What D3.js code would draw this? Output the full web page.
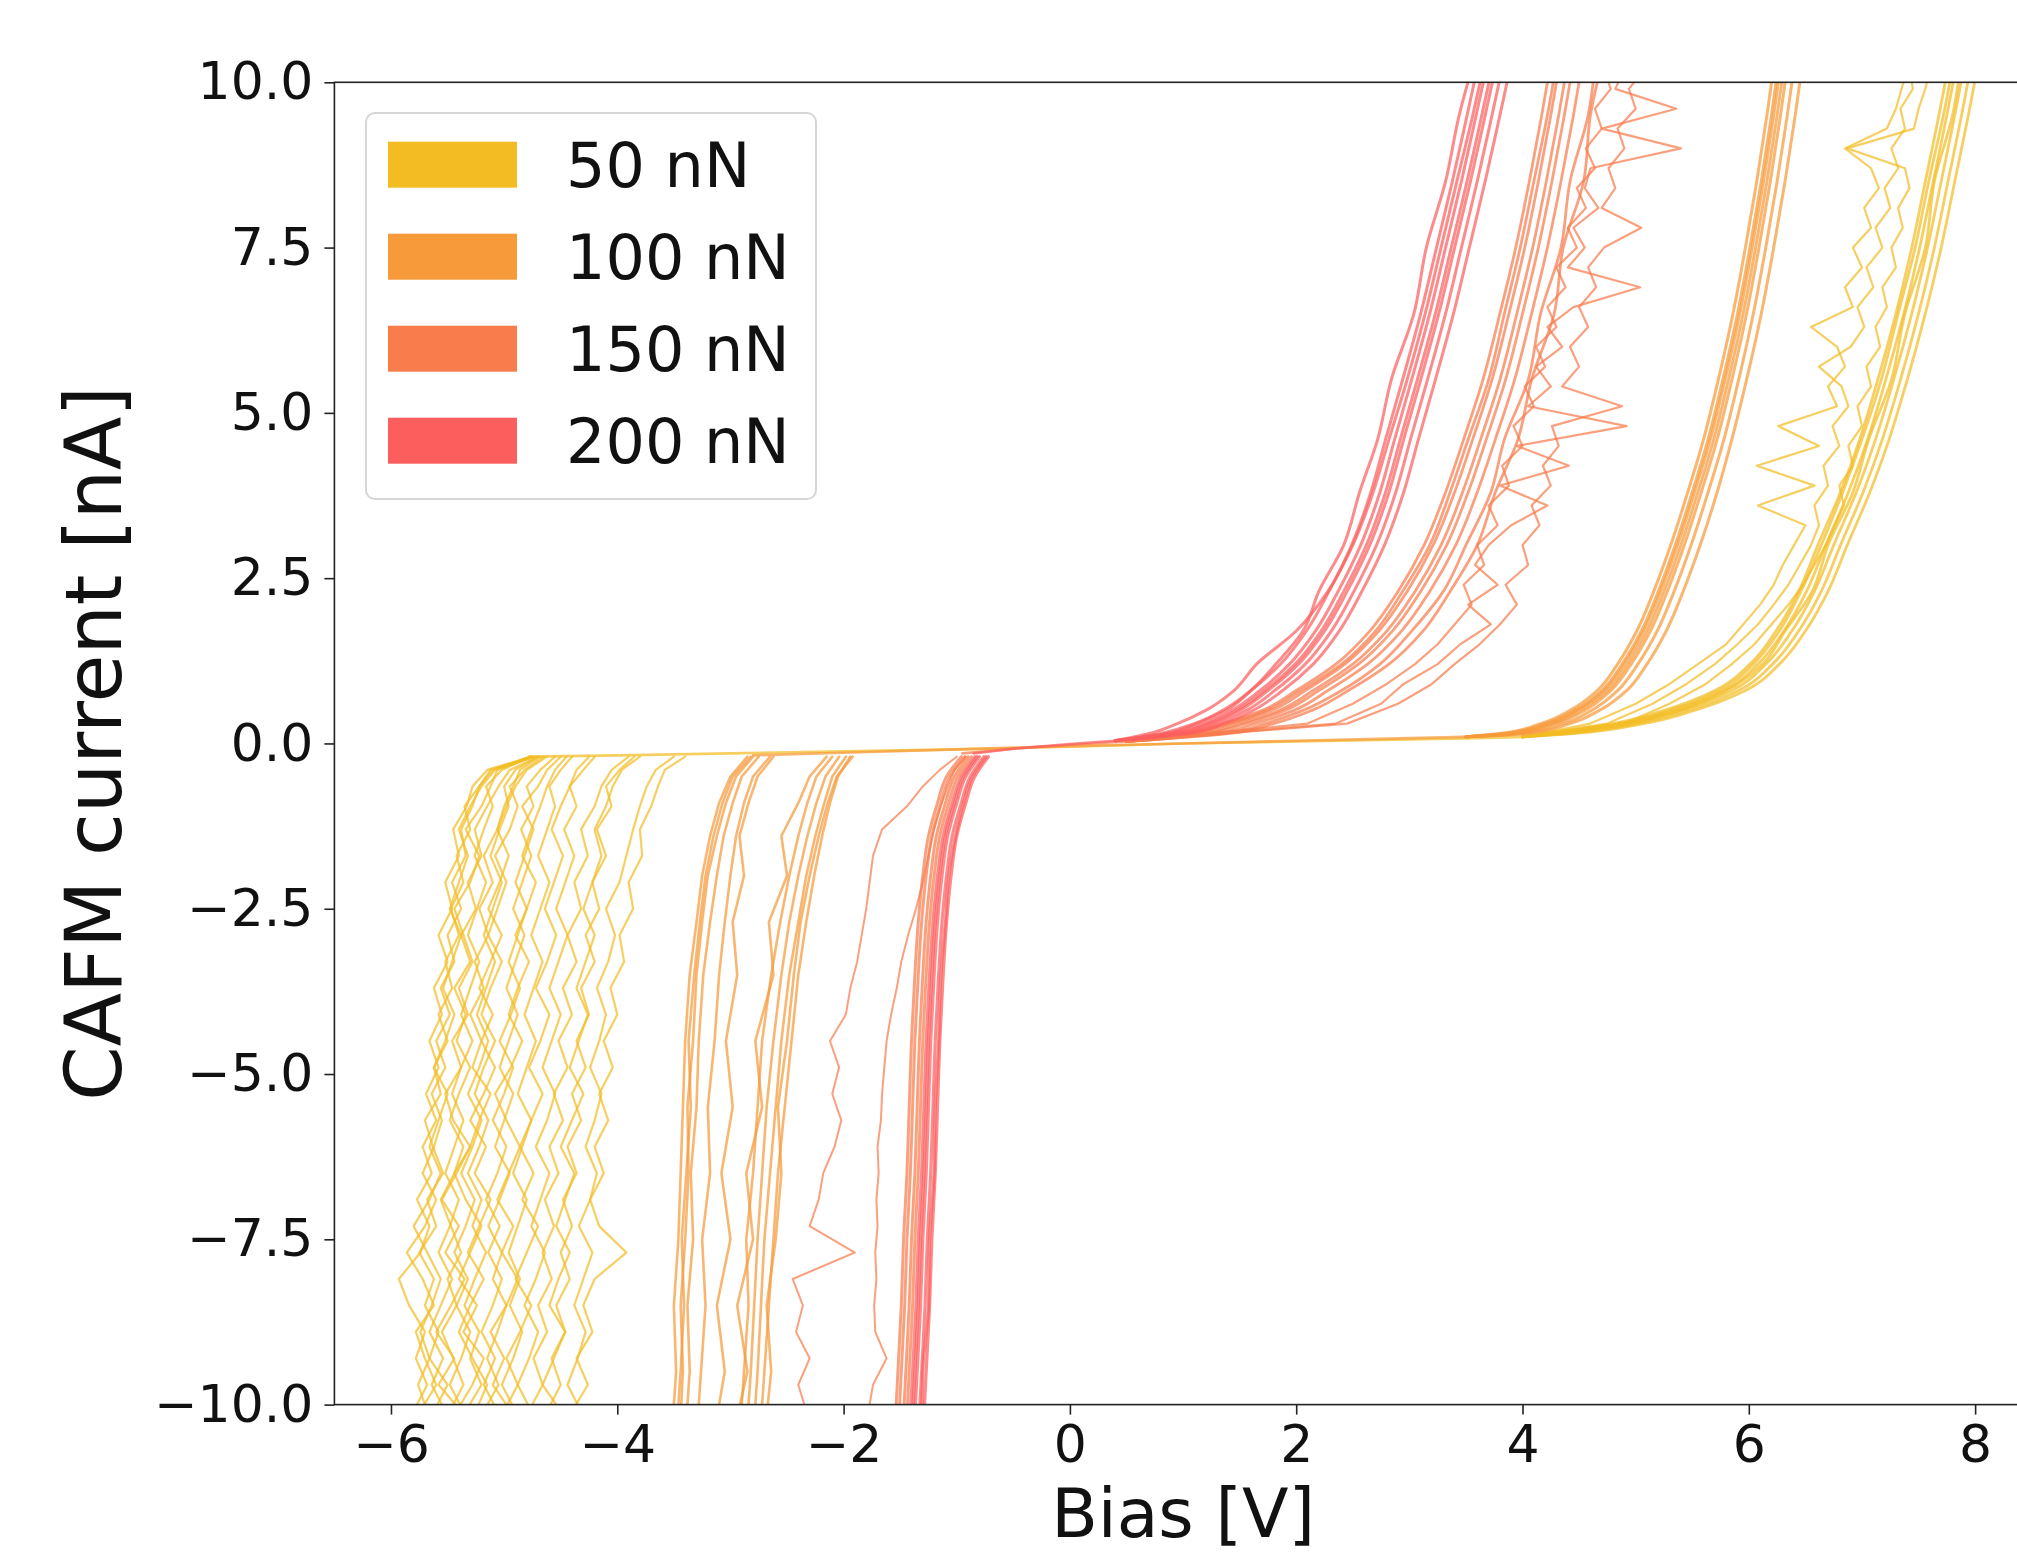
<!DOCTYPE html>
<html>
<head>
<meta charset="utf-8">
<style>
  body { margin: 0; background: #fff; }
  svg { display: block; font-family: "DejaVu Sans", sans-serif; }
  .trace { fill: none; stroke-linejoin: round; stroke-linecap: round; }
  .axis path, .axis line { stroke: #222; stroke-width: 1.6px; }
  .axis text { font-size: 52px; fill: #111; font-family: "DejaVu Sans", sans-serif; }
  .label { font-size: 78px; fill: #111; }
</style>
</head>
<body>
<svg width="2017" height="1555"></svg>
<script src="https://d3js.org/d3.v7.min.js"></script>
<script>
// ---- data ----
var forces = ["50 nN", "100 nN", "150 nN", "200 nN"];
var colors = ["#f2bc22", "#f69a3a", "#f87c4c", "#fc5e5e"];
var voltTicks = [-6, -4, -2, 0, 2, 4, 6, 8];
var currentTicks = [-10, -7.5, -5, -2.5, 0, 2.5, 5, 7.5, 10];

// current levels [nA] at which each branch's bias [V] was read
var negLevelsFine = [-10.5,-10.1,-9.7,-9.3,-8.9,-8.5,-8.1,-7.7,-7.3,-6.9,-6.5,-6.1,-5.7,-5.3,-4.9,-4.5,-4.1,-3.7,-3.3,-2.9,-2.5,-2.1,-1.7,-1.3,-0.95,-0.65,-0.4,-0.2];
var negLevels = [-10.5,-9.5,-8.5,-7.5,-6.5,-5.5,-4.5,-3.5,-2.7,-2.0,-1.4,-0.9,-0.5,-0.2];
var posLevels = [0.15,0.3,0.5,0.8,1.2,1.7,2.3,3,3.8,4.6,5.5,6.5,7.5,8.5,9.5,10.6];
var posLevelsFine = [0.3,0.6,0.9,1.2,1.5,1.8,2.1,2.4,2.7,3.0,3.3,3.6,3.9,4.2,4.5,4.8,5.1,5.4,5.7,6.0,6.3,6.6,6.9,7.2,7.5,7.8,8.1,8.4,8.7,9.0,9.3,9.6,9.9,10.2,10.6];

// low-current plateau of each load [V, nA]
var flat50 = [[-4.78,-0.2],[-4,-0.18],[-3,-0.15],[-2,-0.12],[-1,-0.09],[0,-0.05],[1,0],[2,0.03],[3,0.06],[3.6,0.08],[4.0,0.1]];
var flat100 = [[-2.8,-0.18],[-2,-0.14],[-1,-0.09],[0,-0.04],[1,0.0],[2,0.04],[3,0.08],[3.5,0.1]];
var flat150 = [[-0.95,-0.15],[-0.5,-0.08],[0,-0.02],[0.5,0.03]];
var flat200 = [[-0.85,-0.15],[-0.5,-0.08],[0,-0.01],[0.4,0.04]];

// 50 nN, negative branches on negLevelsFine
var neg50 = [
  [-5.72,-5.80,-5.68,-5.78,-5.70,-5.84,-5.93,-5.74,-5.66,-5.77,-5.64,-5.72,-5.60,-5.69,-5.58,-5.66,-5.55,-5.62,-5.50,-5.58,-5.46,-5.52,-5.40,-5.45,-5.33,-5.28,-5.15,-4.75],
  [-5.55,-5.62,-5.50,-5.66,-5.58,-5.70,-5.62,-5.75,-5.60,-5.68,-5.54,-5.63,-5.70,-5.56,-5.62,-5.50,-5.58,-5.46,-5.52,-5.40,-5.47,-5.36,-5.42,-5.30,-5.35,-5.22,-5.10,-4.72],
  [-5.40,-5.48,-5.36,-5.45,-5.55,-5.42,-5.50,-5.38,-5.47,-5.56,-5.44,-5.36,-5.48,-5.40,-5.30,-5.42,-5.34,-5.44,-5.30,-5.38,-5.25,-5.32,-5.20,-5.26,-5.15,-5.05,-4.95,-4.70],
  [-5.25,-5.34,-5.20,-5.30,-5.22,-5.35,-5.26,-5.16,-5.28,-5.20,-5.32,-5.22,-5.14,-5.26,-5.18,-5.08,-5.20,-5.12,-5.02,-5.14,-5.06,-4.98,-5.08,-4.95,-4.88,-4.95,-4.82,-4.65],
  [-5.10,-5.18,-5.05,-5.15,-5.06,-4.98,-5.10,-5.02,-5.14,-5.04,-4.95,-5.08,-5.00,-4.92,-5.04,-4.96,-4.88,-4.98,-4.90,-4.82,-4.92,-4.84,-4.76,-4.85,-4.74,-4.80,-4.68,-4.55],
  [-4.98,-4.90,-5.02,-4.92,-4.84,-4.95,-4.86,-4.96,-4.88,-4.80,-4.92,-4.84,-4.76,-4.88,-4.80,-4.72,-4.82,-4.74,-4.66,-4.76,-4.68,-4.60,-4.70,-4.62,-4.55,-4.60,-4.50,-4.40],
  [-4.85,-4.76,-4.88,-4.78,-4.70,-4.82,-4.72,-4.64,-4.76,-4.68,-4.60,-4.72,-4.62,-4.55,-4.66,-4.58,-4.50,-4.60,-4.52,-4.44,-4.54,-4.46,-4.38,-4.47,-4.36,-4.42,-4.30,-4.20],
  [-4.55,-4.62,-4.50,-4.58,-4.46,-4.54,-4.42,-4.50,-4.40,-4.48,-4.36,-4.44,-4.32,-4.40,-4.28,-4.36,-4.25,-4.32,-4.20,-4.28,-4.16,-4.22,-4.10,-4.18,-4.05,-4.10,-3.98,-3.85],
  [-4.40,-4.32,-4.44,-4.35,-4.28,-4.38,-4.30,-4.22,-4.34,-4.24,-4.18,-4.28,-4.20,-4.14,-4.24,-4.16,-4.10,-4.18,-4.08,-4.02,-4.10,-3.98,-3.92,-3.86,-3.80,-3.74,-3.66,-3.50],
  [-4.32,-4.40,-4.26,-4.36,-4.22,-4.30,-4.20,-3.92,-4.16,-4.24,-4.12,-4.20,-4.08,-4.16,-4.04,-4.12,-4.00,-4.06,-3.94,-3.98,-3.86,-3.90,-3.78,-3.80,-3.70,-3.64,-3.58,-3.40],
  [-5.62,-5.52,-5.64,-5.54,-5.66,-5.56,-5.46,-5.58,-5.48,-5.40,-5.52,-5.44,-5.36,-5.46,-5.38,-5.28,-5.38,-5.30,-5.22,-5.32,-5.24,-5.16,-5.26,-5.18,-5.10,-5.16,-5.02,-4.76],
  [-5.15,-5.06,-5.18,-5.08,-5.20,-5.10,-5.02,-5.14,-5.04,-5.16,-5.06,-4.98,-5.10,-5.00,-4.92,-5.04,-4.94,-4.86,-4.96,-4.88,-4.80,-4.90,-4.82,-4.74,-4.84,-4.70,-4.62,-4.50],
  [-4.70,-4.78,-4.66,-4.74,-4.62,-4.70,-4.58,-4.66,-4.56,-4.64,-4.52,-4.60,-4.48,-4.56,-4.44,-4.52,-4.40,-4.48,-4.36,-4.44,-4.32,-4.38,-4.26,-4.32,-4.20,-4.14,-4.05,-3.90],
  [-5.45,-5.36,-5.48,-5.38,-5.30,-5.42,-5.32,-5.44,-5.34,-5.26,-5.38,-5.28,-5.20,-5.32,-5.22,-5.14,-5.24,-5.16,-5.08,-5.18,-5.10,-5.02,-5.12,-5.04,-4.96,-5.00,-4.90,-4.70],
  [-5.50,-5.38,-5.58,-5.44,-5.60,-5.47,-5.35,-5.52,-5.40,-5.55,-5.42,-5.30,-5.45,-5.52,-5.38,-5.46,-5.32,-5.40,-5.28,-5.36,-5.44,-5.30,-5.22,-5.34,-5.20,-5.12,-5.06,-4.74],
  [-5.30,-5.42,-5.28,-5.18,-5.36,-5.24,-5.40,-5.30,-5.20,-5.34,-5.44,-5.30,-5.22,-5.12,-5.28,-5.20,-5.30,-5.18,-5.26,-5.14,-5.22,-5.10,-5.18,-5.06,-5.00,-4.92,-4.86,-4.68],
  [-5.05,-4.94,-5.10,-5.00,-5.12,-4.98,-4.88,-5.02,-4.92,-5.06,-4.96,-4.86,-4.98,-5.08,-4.94,-4.84,-4.96,-4.88,-4.78,-4.90,-4.80,-4.72,-4.84,-4.76,-4.68,-4.62,-4.55,-4.45],
  [-5.65,-5.74,-5.60,-5.70,-5.78,-5.62,-5.72,-5.86,-5.70,-5.60,-5.72,-5.62,-5.55,-5.64,-5.52,-5.60,-5.48,-5.56,-5.44,-5.50,-5.38,-5.46,-5.34,-5.38,-5.28,-5.22,-5.12,-4.77],
  [-4.62,-4.50,-4.66,-4.56,-4.46,-4.60,-4.52,-4.42,-4.54,-4.46,-4.38,-4.50,-4.40,-4.30,-4.42,-4.34,-4.26,-4.36,-4.28,-4.20,-4.30,-4.22,-4.14,-4.20,-4.10,-4.04,-3.96,-3.80],
  [-5.35,-5.25,-5.15,-5.28,-5.40,-5.30,-5.18,-5.32,-5.22,-5.12,-5.26,-5.16,-5.30,-5.18,-5.08,-5.20,-5.10,-5.22,-5.12,-5.02,-5.14,-5.04,-4.96,-5.06,-4.98,-4.90,-4.80,-4.62],
  [-4.90,-5.00,-4.88,-4.98,-4.86,-4.76,-4.90,-4.80,-4.70,-4.84,-4.74,-4.86,-4.76,-4.66,-4.78,-4.68,-4.60,-4.72,-4.62,-4.54,-4.64,-4.56,-4.48,-4.58,-4.50,-4.42,-4.36,-4.25],
  [-5.78,-5.68,-5.76,-5.66,-5.74,-5.64,-5.56,-5.68,-5.80,-5.66,-5.56,-5.66,-5.58,-5.50,-5.62,-5.52,-5.44,-5.54,-5.46,-5.38,-5.48,-5.40,-5.32,-5.40,-5.30,-5.20,-5.08,-4.78]
];
// 50 nN, positive branches on posLevels
var pos50 = [
  [4.20,4.80,5.25,5.70,6.01,6.24,6.44,6.61,6.81,6.98,7.14,7.30,7.44,7.56,7.68,7.80],
  [4.28,4.88,5.33,5.78,6.08,6.31,6.51,6.68,6.88,7.05,7.21,7.37,7.51,7.63,7.75,7.87],
  [4.35,4.95,5.40,5.85,6.15,6.38,6.58,6.75,6.95,7.12,7.28,7.44,7.58,7.70,7.82,7.94],
  [4.40,5.01,5.46,5.91,6.21,6.44,6.64,6.81,7.01,7.18,7.34,7.50,7.64,7.76,7.88,8.00],
  [4.45,5.07,5.52,5.97,6.27,6.50,6.70,6.87,7.07,7.24,7.40,7.56,7.70,7.82,7.94,8.06],
  [4.30,4.92,5.38,5.80,6.12,6.32,6.56,6.70,6.92,7.06,7.26,7.38,7.56,7.64,7.80,7.90],
  [4.25,4.85,5.30,5.74,6.04,6.27,6.46,6.64,6.83,7.00,7.17,7.32,7.47,7.59,7.72,7.84]
];
// 50 nN, noisy positive branches on posLevelsFine
var posNoisy50 = [
  [4.60,5.00,5.30,5.55,5.80,5.95,6.10,6.22,6.30,6.40,6.50,6.08,6.58,6.07,6.62,6.26,6.78,6.70,6.85,6.78,6.55,6.92,6.85,7.00,6.92,7.08,7.02,7.15,7.08,6.85,7.22,7.30,7.35,7.40,7.46],
  [4.75,5.15,5.45,5.70,5.90,6.08,6.22,6.35,6.45,6.55,6.62,6.58,6.70,6.66,6.80,6.74,6.88,6.82,6.62,6.90,7.02,6.96,7.10,7.04,7.18,7.12,7.25,7.20,7.32,7.26,7.38,7.34,7.45,7.42,7.52],
  [4.90,5.30,5.62,5.85,6.05,6.20,6.35,6.48,6.58,6.68,6.76,6.84,6.80,6.92,6.88,7.00,6.96,7.08,7.04,7.16,7.12,7.22,7.18,7.30,7.26,7.36,7.32,7.42,7.38,6.87,7.46,7.50,7.56,7.60,7.66]
];

// 100 nN, negative branches on negLevels (two clusters)
var neg100 = [
  [-3.52,-3.48,-3.50,-3.46,-3.44,-3.42,-3.40,-3.36,-3.30,-3.25,-3.18,-3.10,-3.00,-2.85],
  [-3.45,-3.42,-3.44,-3.40,-3.37,-3.38,-3.33,-3.30,-3.25,-3.20,-3.12,-3.04,-2.95,-2.80],
  [-3.40,-3.36,-3.38,-3.33,-3.35,-3.30,-3.28,-3.24,-3.18,-3.12,-3.06,-2.98,-2.90,-2.75],
  [-3.30,-3.26,-3.22,-3.25,-3.18,-3.20,-3.14,-3.10,-3.05,-3.00,-2.95,-2.88,-2.80,-2.65],
  [-3.15,-3.05,-3.12,-3.00,-3.08,-2.98,-3.04,-2.94,-2.98,-2.88,-2.92,-2.84,-2.76,-2.62],
  [-3.48,-3.44,-3.41,-3.43,-3.39,-3.35,-3.37,-3.32,-3.27,-3.22,-3.15,-3.07,-2.98,-2.82],
  [-2.92,-2.88,-2.84,-2.86,-2.80,-2.76,-2.72,-2.64,-2.56,-2.48,-2.40,-2.32,-2.24,-2.10],
  [-2.86,-2.82,-2.79,-2.76,-2.72,-2.68,-2.62,-2.55,-2.48,-2.40,-2.32,-2.24,-2.16,-2.04],
  [-2.80,-2.76,-2.73,-2.70,-2.65,-2.60,-2.55,-2.48,-2.40,-2.33,-2.25,-2.17,-2.10,-1.98],
  [-2.74,-2.70,-2.66,-2.62,-2.58,-2.52,-2.46,-2.40,-2.33,-2.26,-2.19,-2.12,-2.05,-1.94],
  [-2.98,-2.85,-2.94,-2.80,-2.86,-2.72,-2.78,-2.62,-2.66,-2.50,-2.55,-2.40,-2.30,-2.15],
  [-2.70,-2.64,-2.68,-2.60,-2.55,-2.58,-2.50,-2.44,-2.38,-2.30,-2.22,-2.14,-2.06,-1.92]
];
var pos100 = [
  [3.80,4.16,4.42,4.66,4.84,5.01,5.16,5.31,5.46,5.60,5.73,5.86,5.97,6.07,6.16,6.25],
  [3.87,4.23,4.48,4.72,4.90,5.07,5.22,5.37,5.52,5.66,5.79,5.92,6.03,6.13,6.22,6.31],
  [3.95,4.30,4.55,4.78,4.96,5.13,5.28,5.43,5.58,5.72,5.85,5.98,6.09,6.19,6.28,6.37],
  [4.00,4.36,4.61,4.84,5.02,5.19,5.34,5.49,5.64,5.78,5.91,6.04,6.15,6.25,6.34,6.43],
  [4.05,4.42,4.68,4.92,5.10,5.27,5.42,5.57,5.72,5.85,5.98,6.11,6.22,6.32,6.41,6.50],
  [3.90,4.26,4.51,4.75,4.93,5.10,5.25,5.40,5.55,5.69,5.82,5.95,6.06,6.16,6.25,6.34],
  [3.85,4.20,4.46,4.70,4.88,5.05,5.20,5.35,5.50,5.64,5.77,5.90,6.01,6.11,6.20,6.29]
];

// 150 nN, negative branches on negLevels (left edge of the steep bundle)
var neg150 = [
  [-1.48,-1.45,-1.42,-1.40,-1.37,-1.35,-1.33,-1.30,-1.27,-1.23,-1.18,-1.10,-1.02,-0.90],
  [-1.52,-1.49,-1.46,-1.44,-1.41,-1.39,-1.37,-1.34,-1.31,-1.27,-1.22,-1.14,-1.06,-0.93],
  [-1.55,-1.52,-1.49,-1.47,-1.44,-1.42,-1.40,-1.37,-1.34,-1.30,-1.25,-1.17,-1.09,-0.96],
  [-1.45,-1.42,-1.39,-1.37,-1.34,-1.32,-1.30,-1.27,-1.24,-1.20,-1.15,-1.07,-0.99,-0.87]
];
// 150 nN, faint noisy negative branches on negLevelsFine
var negNoisy150 = [
  [-1.80,-1.78,-1.74,-1.62,-1.72,-1.73,-1.71,-1.72,-1.70,-1.71,-1.69,-1.70,-1.67,-1.66,-1.64,-1.62,-1.58,-1.53,-1.49,-1.43,-1.36,-1.30,-1.25,-1.20,-1.14,-1.08,-1.02,-0.92],
  [-2.38,-2.33,-2.40,-2.30,-2.42,-2.36,-2.45,-1.90,-2.30,-2.22,-2.18,-2.08,-2.02,-2.10,-2.04,-2.12,-1.98,-1.94,-1.88,-1.84,-1.80,-1.77,-1.74,-1.66,-1.44,-1.30,-1.15,-1.00]
];
var pos150 = [
  [1.00,1.35,1.70,2.00,2.35,2.65,2.90,3.13,3.32,3.48,3.65,3.80,3.94,4.06,4.17,4.28],
  [1.08,1.43,1.78,2.08,2.43,2.73,2.98,3.21,3.40,3.56,3.73,3.88,4.02,4.14,4.25,4.36],
  [1.15,1.50,1.85,2.15,2.50,2.80,3.05,3.28,3.47,3.63,3.80,3.95,4.09,4.21,4.32,4.43],
  [1.20,1.55,1.90,2.20,2.55,2.85,3.10,3.33,3.52,3.68,3.85,4.00,4.14,4.26,4.37,4.48],
  [1.28,1.63,1.98,2.28,2.63,2.93,3.18,3.41,3.60,3.76,3.93,4.08,4.22,4.34,4.45,4.56],
  [1.35,1.72,2.06,2.40,2.74,3.02,3.30,3.50,3.72,3.84,4.05,4.16,4.34,4.42,4.58,4.66],
  [1.40,1.80,2.14,2.46,2.82,3.12,3.36,3.60,3.76,3.96,4.08,4.28,4.36,4.54,4.60,4.75],
  [1.05,1.40,1.74,2.04,2.40,2.70,2.94,3.18,3.36,3.52,3.70,3.84,3.98,4.10,4.22,4.33]
];
var posNoisy150 = [
  [2.35,2.75,2.95,3.25,3.45,3.72,3.52,3.78,3.58,3.70,3.90,4.22,3.80,4.41,3.95,4.92,4.05,4.25,4.12,4.35,4.22,4.45,5.04,4.40,4.55,4.45,4.67,4.55,4.60,5.40,4.70,5.36,4.82,4.90,4.98],
  [2.10,2.50,2.80,3.05,3.25,3.40,3.55,3.48,3.66,3.60,3.78,3.70,3.88,3.82,4.00,3.92,4.10,4.02,4.20,4.12,4.30,4.22,4.38,4.30,4.48,4.40,4.56,4.48,4.64,4.56,4.70,4.64,4.78,4.72,4.85],
  [2.45,2.90,3.20,3.40,3.62,3.80,3.95,3.85,4.05,4.00,4.15,4.08,4.25,4.18,4.32,4.26,4.88,4.35,4.50,4.42,4.58,4.50,4.65,4.58,4.72,5.05,4.70,4.82,4.76,4.90,4.84,5.00,4.94,5.08,5.15]
];

// 200 nN
var neg200 = [
  [-1.30,-1.27,-1.24,-1.22,-1.19,-1.17,-1.15,-1.12,-1.09,-1.05,-1.00,-0.92,-0.84,-0.72],
  [-1.34,-1.31,-1.28,-1.26,-1.23,-1.21,-1.19,-1.16,-1.13,-1.09,-1.04,-0.96,-0.88,-0.76],
  [-1.38,-1.35,-1.32,-1.30,-1.27,-1.25,-1.23,-1.20,-1.17,-1.13,-1.08,-1.00,-0.92,-0.80],
  [-1.42,-1.39,-1.36,-1.34,-1.31,-1.29,-1.27,-1.24,-1.21,-1.17,-1.12,-1.04,-0.96,-0.84],
  [-1.31,-1.30,-1.25,-1.24,-1.20,-1.19,-1.16,-1.14,-1.10,-1.07,-1.01,-0.94,-0.86,-0.74],
  [-1.40,-1.37,-1.34,-1.32,-1.29,-1.27,-1.25,-1.22,-1.19,-1.15,-1.10,-1.02,-0.94,-0.82]
];
var pos200 = [
  [0.80,1.10,1.35,1.60,1.86,2.09,2.29,2.49,2.66,2.79,2.94,3.10,3.24,3.38,3.51,3.65],
  [0.88,1.18,1.43,1.68,1.94,2.17,2.37,2.57,2.74,2.87,3.02,3.18,3.32,3.46,3.59,3.73],
  [0.95,1.25,1.50,1.75,2.02,2.25,2.45,2.65,2.82,2.95,3.10,3.26,3.40,3.54,3.67,3.81],
  [1.00,1.30,1.56,1.81,2.08,2.31,2.51,2.71,2.88,3.01,3.16,3.32,3.46,3.60,3.73,3.87],
  [1.05,1.36,1.62,1.88,2.15,2.38,2.58,2.78,2.95,3.08,3.23,3.39,3.53,3.67,3.80,3.94],
  [0.92,1.22,1.47,1.72,1.99,2.22,2.42,2.62,2.79,2.92,3.07,3.23,3.37,3.51,3.64,3.78],
  [0.70,0.95,1.20,1.45,1.65,2.00,2.28,2.50,2.68,2.82,2.98,3.14,3.28,3.42,3.56,3.70],
  [0.85,1.12,1.38,1.60,1.82,2.06,2.20,2.42,2.56,2.72,2.84,3.04,3.15,3.32,3.44,3.62]
];

// ---- chart ----
var svg = d3.select("svg");
var margin = {top: 82.3, left: 334.4};
var width = 1697.3, height = 1322.3;
var g = svg.append("g").attr("transform", "translate(" + margin.left + "," + margin.top + ")");

var x = d3.scaleLinear().domain([-6.5, 8.5]).range([0, width]);
var y = d3.scaleLinear().domain([-10, 10]).range([height, 0]);

svg.append("defs").append("clipPath").attr("id", "plot")
  .append("rect").attr("width", width).attr("height", height);

var line = d3.line()
  .x(function(d) { return x(d[0]); })
  .y(function(d) { return y(d[1]); });
var smoothLine = d3.line()
  .curve(d3.curveMonotoneY)
  .x(function(d) { return x(d[0]); })
  .y(function(d) { return y(d[1]); });

function branch(levels, volts) {
  var pts = [];
  for (var k = 0; k < levels.length && k < volts.length; k++) pts.push([volts[k], levels[k]]);
  return pts;
}

// [levels, branches, smooth?, stroke width]
var groups = [
  {color: colors[0], flat: flat50,
   neg: [[negLevelsFine, neg50, false, 2.2]],
   pos: [[posLevels, pos50, true, 2.8], [posLevelsFine, posNoisy50, false, 2.2]]},
  {color: colors[1], flat: flat100,
   neg: [[negLevels, neg100, false, 2.6]],
   pos: [[posLevels, pos100, true, 3]]},
  {color: colors[2], flat: flat150,
   neg: [[negLevels, neg150, true, 3], [negLevelsFine, negNoisy150, false, 2]],
   pos: [[posLevels, pos150, true, 2.8], [posLevelsFine, posNoisy150, false, 2.2]]},
  {color: colors[3], flat: flat200,
   neg: [[negLevels, neg200, true, 3.2]],
   pos: [[posLevels, pos200, true, 3]]}
];

var plot = g.append("g").attr("clip-path", "url(#plot)");

groups.forEach(function(grp) {
  var gg = plot.append("g").attr("stroke", grp.color).attr("stroke-opacity", 0.72);
  var start = grp.flat[grp.flat.length - 1];
  gg.append("path").attr("class", "trace").attr("stroke-width", 2.6).attr("d", line(grp.flat));
  grp.neg.forEach(function(set) {
    var gen = set[2] ? smoothLine : line;
    set[1].forEach(function(v) {
      gg.append("path").attr("class", "trace").attr("stroke-width", set[3])
        .attr("d", gen(branch(set[0], v)));
    });
  });
  grp.pos.forEach(function(set) {
    var gen = set[2] ? smoothLine : line;
    set[1].forEach(function(v) {
      gg.append("path").attr("class", "trace").attr("stroke-width", set[3])
        .attr("d", gen([start].concat(branch(set[0], v))));
    });
  });
});

// frame
g.append("rect").attr("width", width).attr("height", height)
  .attr("fill", "none").attr("stroke", "#222").attr("stroke-width", 1.6);

g.append("g").attr("class", "axis")
  .attr("transform", "translate(0," + height + ")")
  .call(d3.axisBottom(x).tickValues(voltTicks).tickFormat(d3.format("d")).tickSize(10).tickPadding(10))
  .call(function(a) { a.select(".domain").remove(); });

g.append("g").attr("class", "axis")
  .call(d3.axisLeft(y).tickValues(currentTicks).tickFormat(d3.format(".1f")).tickSize(10).tickPadding(11))
  .call(function(a) { a.select(".domain").remove(); });

svg.append("text").attr("class", "label")
  .attr("transform", "translate(121," + (margin.top + height / 2) + ") rotate(-90)")
  .attr("text-anchor", "middle")
  .text("CAFM current [nA]");

svg.append("text").attr("class", "label")
  .attr("x", margin.left + width / 2).attr("y", 1537)
  .style("font-size", "68px")
  .attr("text-anchor", "middle")
  .text("Bias [V]");

// legend
var leg = svg.append("g").attr("transform", "translate(366,113)");
leg.append("rect").attr("width", 450).attr("height", 386).attr("rx", 9)
  .attr("fill", "#fff").attr("fill-opacity", 0.8).attr("stroke", "#d6d6d6").attr("stroke-width", 2);
forces.forEach(function(f, i) {
  var cy = 51.7 + i * 92;
  leg.append("rect").attr("x", 22).attr("y", cy - 23).attr("width", 129).attr("height", 46).attr("fill", colors[i]);
  leg.append("text").attr("x", 200).attr("y", cy + 22).attr("font-size", 62).attr("fill", "#111").text(f);
});
</script>
</body>
</html>
